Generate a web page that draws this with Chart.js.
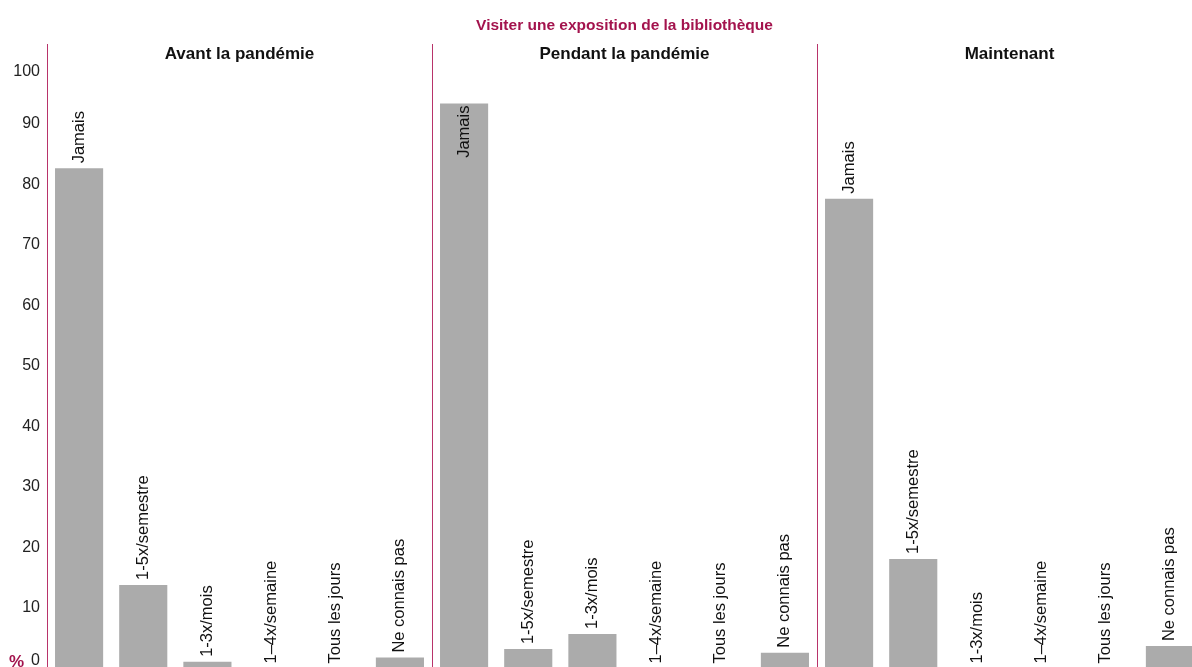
<!DOCTYPE html>
<html>
<head>
<meta charset="utf-8">
<script src="https://cdn.jsdelivr.net/npm/chart.js@4/dist/chart.umd.min.js"></script>
<style>
  html, body { margin: 0; padding: 0; background: #fff; overflow: hidden; }
  #wrap { position: absolute; left: 0; top: 0; width: 1210px; height: 680px; }
</style>
</head>
<body>
<div id="wrap"><canvas id="expoChart" width="1210" height="680"></canvas></div>
<script>
// ===== DONNÉES =====
const chartTitle = 'Visiter une exposition de la bibliothèque';
const panels = ['Avant la pandémie', 'Pendant la pandémie', 'Maintenant'];
const categories = ['Jamais', '1-5x/semestre', '1-3x/mois', '1–4x/semaine', 'Tous les jours', 'Ne connais pas'];
const avant = [82.6, 13.8, 1.1, 0, 0, 1.8];
const pendant = [93.3, 3.2, 5.7, 0, 0, 2.6];
const maintenant = [77.6, 18.1, 0, 0, 0, 3.7];
const yTicks = [0, 10, 20, 30, 40, 50, 60, 70, 80, 90, 100];

const ACCENT = '#A3134D';
const BAR = '#ABABAB';
const FONT = 'Arial, "Liberation Sans", sans-serif';

// labels à plat : un groupe de 6 par panneau
const labels = [];
const values = [];
[avant, pendant, maintenant].forEach(serie => {
    serie.forEach((v, i) => {
        labels.push(categories[i]);
        values.push(v);
    });
});

// ===== PLUGIN DE DESSIN (titres, séparateurs, étiquettes) =====
const decorPlugin = {
    id: 'decor',
    afterDatasetsDraw(chart) {
        const ctx = chart.ctx;
        const area = chart.chartArea;
        const xs = chart.scales.x;
        const ys = chart.scales.y;
        const n = categories.length;

        ctx.save();

        // séparateurs verticaux
        ctx.strokeStyle = '#B8336A';
        ctx.lineWidth = 1;
        for (let p = 0; p < panels.length; p++) {
            const left = p === 0 ? area.left : (xs.getPixelForValue(p * n) + xs.getPixelForValue(p * n - 1)) / 2;
            ctx.beginPath();
            ctx.moveTo(Math.round(left) + 0.5, 44);
            ctx.lineTo(Math.round(left) + 0.5, chart.height);
            ctx.stroke();
        }

        // titre principal
        ctx.fillStyle = ACCENT;
        ctx.font = 'bold 15.5px ' + FONT;
        ctx.textAlign = 'center';
        ctx.textBaseline = 'middle';
        ctx.fillText(chartTitle, (area.left + area.right) / 2, 26);

        // titres des panneaux
        ctx.fillStyle = '#111';
        ctx.font = 'bold 17px ' + FONT;
        panels.forEach((name, p) => {
            const a = xs.getPixelForValue(p * n);
            const b = xs.getPixelForValue(p * n + n - 1);
            ctx.fillText(name, (a + b) / 2, 54);
        });

        // graduations Y
        ctx.font = '16px ' + FONT;
        ctx.fillStyle = '#222';
        ctx.textAlign = 'right';
        yTicks.forEach(v => {
            let y = ys.getPixelForValue(v);
            y = Math.max(72, Math.min(661, y));
            ctx.fillText(String(v), 40, y);
        });
        ctx.fillStyle = ACCENT;
        ctx.font = 'bold 17px ' + FONT;
        ctx.textAlign = 'left';
        ctx.fillText('%', 9, 662);

        // étiquettes des barres (verticales)
        ctx.font = '16.5px ' + FONT;
        ctx.fillStyle = '#111';
        const meta = chart.getDatasetMeta(0);
        meta.data.forEach((el, i) => {
            const txt = labels[i];
            const w = ctx.measureText(txt).width;
            let startY = el.y - 5;
            if (startY - w < area.top) {
                startY = el.y + 2 + w; // à l'intérieur de la barre
            }
            ctx.save();
            ctx.translate(el.x, startY);
            ctx.rotate(-Math.PI / 2);
            ctx.textAlign = 'left';
            ctx.textBaseline = 'middle';
            ctx.fillText(txt, 0, 0);
            ctx.restore();
        });

        ctx.restore();
    }
};

// ===== GRAPHIQUE =====
new Chart(document.getElementById('expoChart').getContext('2d'), {
    type: 'bar',
    data: {
        labels: labels,
        datasets: [{
            data: values,
            backgroundColor: BAR,
            borderWidth: 0,
            barPercentage: 0.75,
            categoryPercentage: 1
        }]
    },
    options: {
        responsive: false,
        animation: false,
        devicePixelRatio: 1,
        layout: { padding: { left: 47, right: 8, top: 63, bottom: 11.5 } },
        plugins: {
            legend: { display: false },
            tooltip: { enabled: false }
        },
        scales: {
            x: { display: false, offset: true },
            y: { display: false, min: 0, max: 100 }
        }
    },
    plugins: [decorPlugin]
});
</script>
</body>
</html>
